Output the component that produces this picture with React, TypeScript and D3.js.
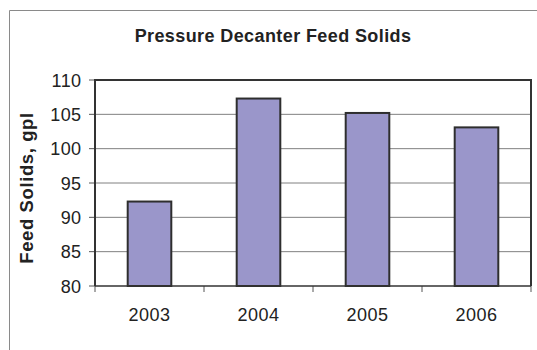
import React from "react";
import * as d3 from "d3";

const categories = ["2003", "2004", "2005", "2006"];
const values = [92.3, 107.3, 105.2, 103.1];
const yTicks = [80, 85, 90, 95, 100, 105, 110];
const title = "Pressure Decanter Feed Solids";
const yLabel = "Feed Solids, gpl";

export default function App() {
  const W = 537, H = 350;
  const left = 95, right = 531, top = 80, bottom = 286;
  const x = d3.scaleBand<string>().domain(categories).range([left, right]).paddingInner(0.6).paddingOuter(0.3);
  const xb = d3.scaleBand<string>().domain(categories).range([left, right]);
  const y = d3.scaleLinear().domain([80, 110]).range([bottom, top]);
  const font = "'Liberation Sans', Arial, sans-serif";
  return (
    <svg width={W} height={H} style={{ position: "absolute", left: 0, top: 0, background: "#fff" }}>
      <rect x={0} y={0} width={W} height={H} fill="#fff" />
      <path d={`M9.5,${H} V10.5 H${W}`} fill="none" stroke="#8a8a8a" strokeWidth={1} />
      <text x={273} y={42} textAnchor="middle" fontFamily={font} fontSize={18} fontWeight="bold" letterSpacing={0.4} fill="#222">{title}</text>
      {yTicks.map((t) => (
        <g key={t}>
          {t > 80 && t < 110 && (
            <line x1={left} x2={right} y1={y(t)} y2={y(t)} stroke="#808080" strokeWidth={1} />
          )}
          <line x1={left - 6} x2={left} y1={y(t)} y2={y(t)} stroke="#555" strokeWidth={1} />
          <text x={81.5} y={y(t) + 6.5} textAnchor="end" fontFamily={font} fontSize={18} letterSpacing={0.4} fill="#222">{t}</text>
        </g>
      ))}
      {categories.map((c, i) => (
        <rect key={c} x={x(c)} y={y(values[i])} width={x.bandwidth()} height={bottom - y(values[i])}
          fill="#9a96ca" stroke="#2e2e2e" strokeWidth={2} />
      ))}
      {[...categories.map((c) => xb(c) as number), right].map((v, i) => (
        <line key={i} x1={v} x2={v} y1={bottom} y2={bottom + 6} stroke="#555" strokeWidth={1} />
      ))}
      {categories.map((c) => (
        <text key={c} x={(xb(c) as number) + xb.bandwidth() / 2} y={321} textAnchor="middle" fontFamily={font} fontSize={18} letterSpacing={0.5} fill="#222">{c}</text>
      ))}
      <path d={`M${left},${bottom} V${top} H${right} V${bottom}`} fill="none" stroke="#333" strokeWidth={2} />
      <line x1={left} x2={right} y1={bottom} y2={bottom} stroke="#333" strokeWidth={1.5} />
      <text transform={`translate(33,188) rotate(-90)`} textAnchor="middle" fontFamily={font} fontSize={18.5} fontWeight="bold" letterSpacing={0.6} fill="#222">{yLabel}</text>
    </svg>
  );
}
